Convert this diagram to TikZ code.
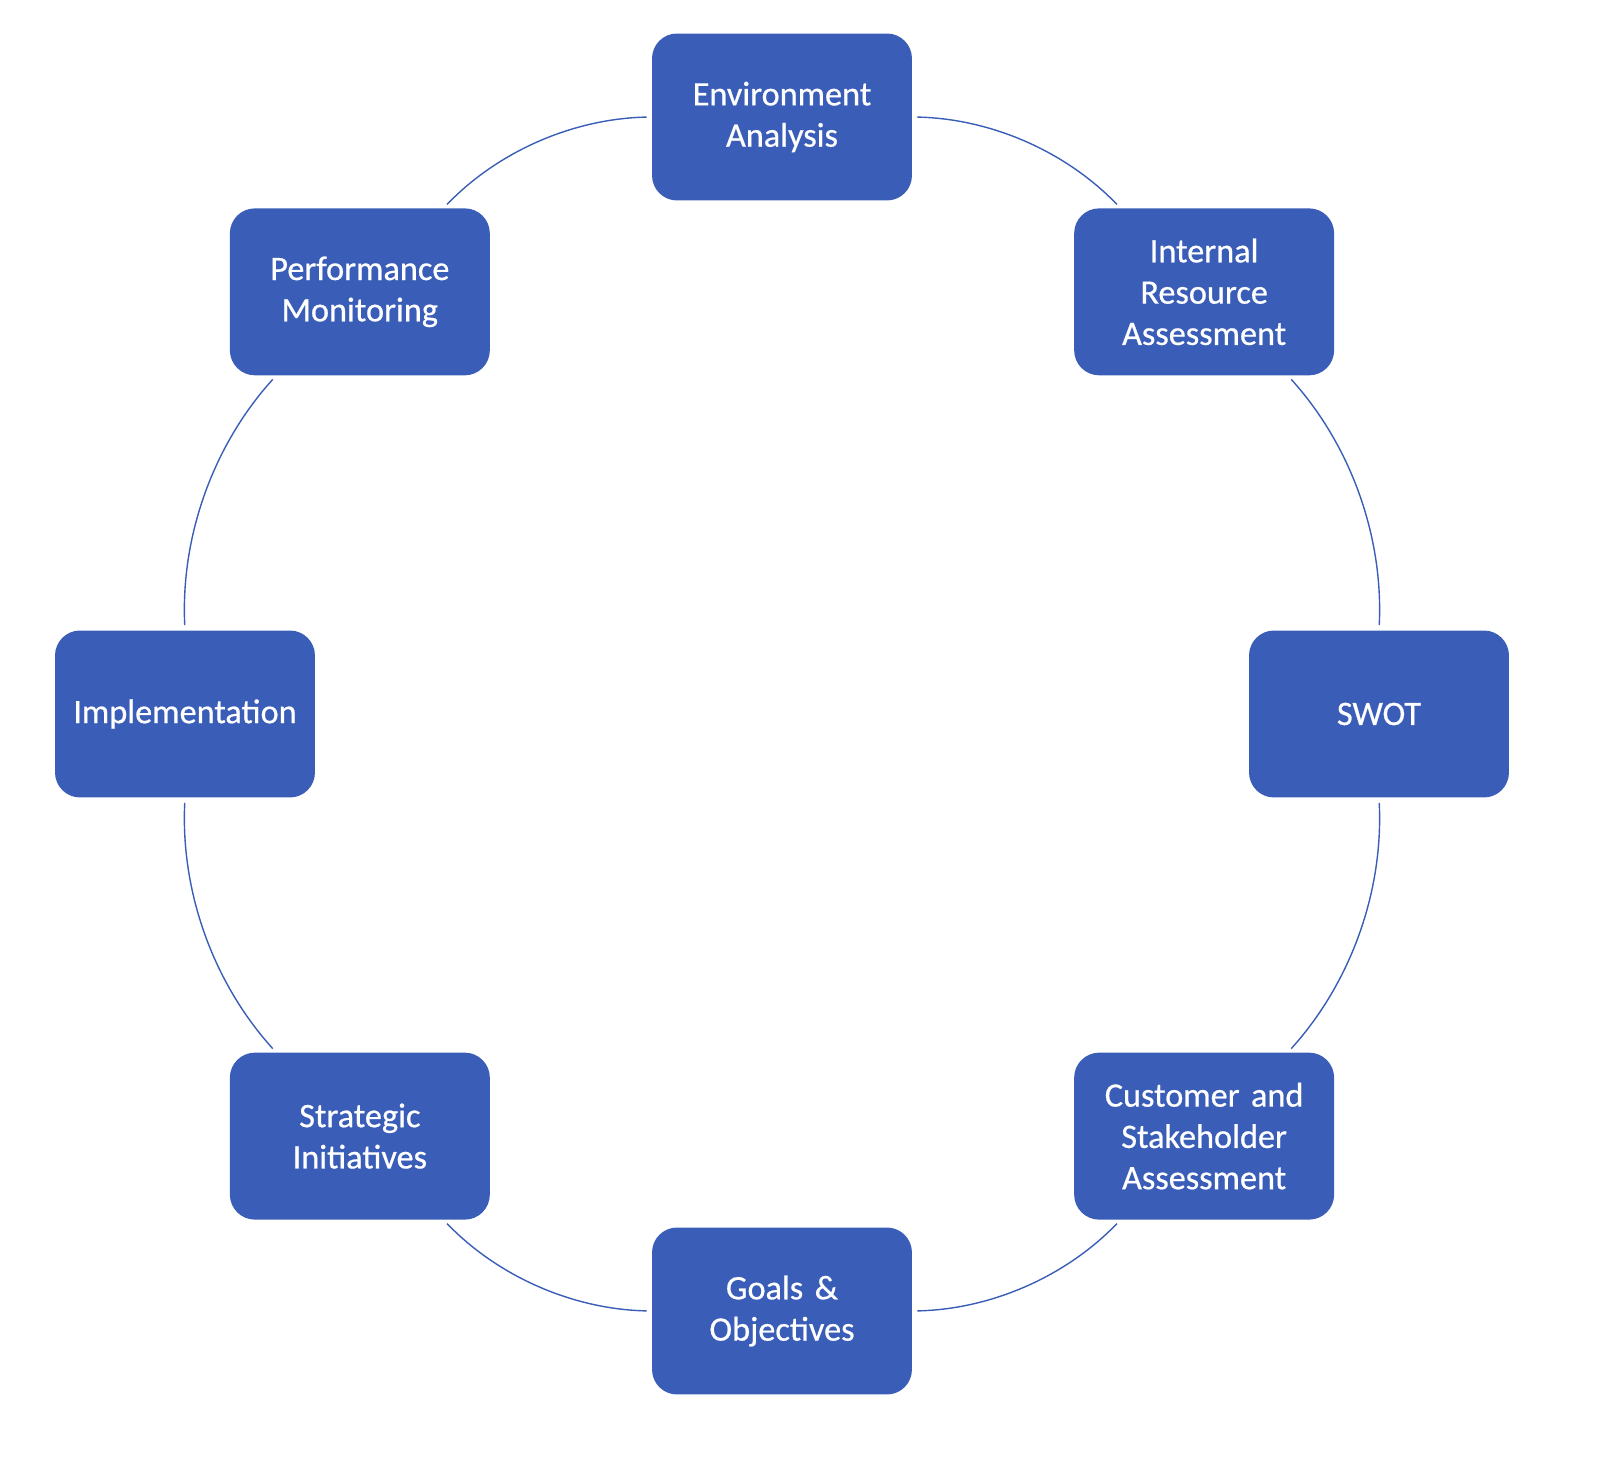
\documentclass[tikz,border=0pt]{standalone}
\usepackage{fontspec}
\setmainfont{Carlito}
\newfontfamily\boxfont{Carlito}[FakeBold=0.6]
\usepackage{tikz}
\definecolor{boxblue}{HTML}{3A5EB8}
\tikzstyle{stepbox}=[rectangle, rounded corners=0.5cm, fill=boxblue, draw=none, text=white, minimum width=5.2cm, minimum height=3.34cm, text width=4.8cm, align=center, font=\boxfont\fontsize{19.5}{23.5}\selectfont]
\tikzstyle{arc}=[draw=boxblue, line width=0.8pt, bend left=22.5, looseness=0.885, shorten <=0.1cm, shorten >=0.1cm]

\begin{document}
\begin{tikzpicture}[x=0.02cm, y=0.02cm]
	\useasboundingbox (-782,-749) rectangle (818,714);

	%steps
		\node [style=stepbox] (env) at (90:597) {Environment\\Analysis};
		\node [style=stepbox] (irs) at (45:597) {Internal\\Resource\\Assessment};
		\node [style=stepbox] (swot) at (0:597) {SWOT};
		\node [style=stepbox] (cust) at (-45:597) {Customer and\\Stakeholder\\Assessment};
		\node [style=stepbox] (goals) at (-90:597) {Goals \&\\Objectives};
		\node [style=stepbox] (strat) at (-135:597) {Strategic\\Initiatives};
		\node [style=stepbox] (impl) at (180:597) {Implementation};
		\node [style=stepbox] (perf) at (135:597) {Performance\\Monitoring};

	%cycle
		\draw [style=arc] (env) to (irs);
		\draw [style=arc] (irs) to (swot);
		\draw [style=arc] (swot) to (cust);
		\draw [style=arc] (cust) to (goals);
		\draw [style=arc] (goals) to (strat);
		\draw [style=arc] (strat) to (impl);
		\draw [style=arc] (impl) to (perf);
		\draw [style=arc] (perf) to (env);
\end{tikzpicture}
\end{document}
